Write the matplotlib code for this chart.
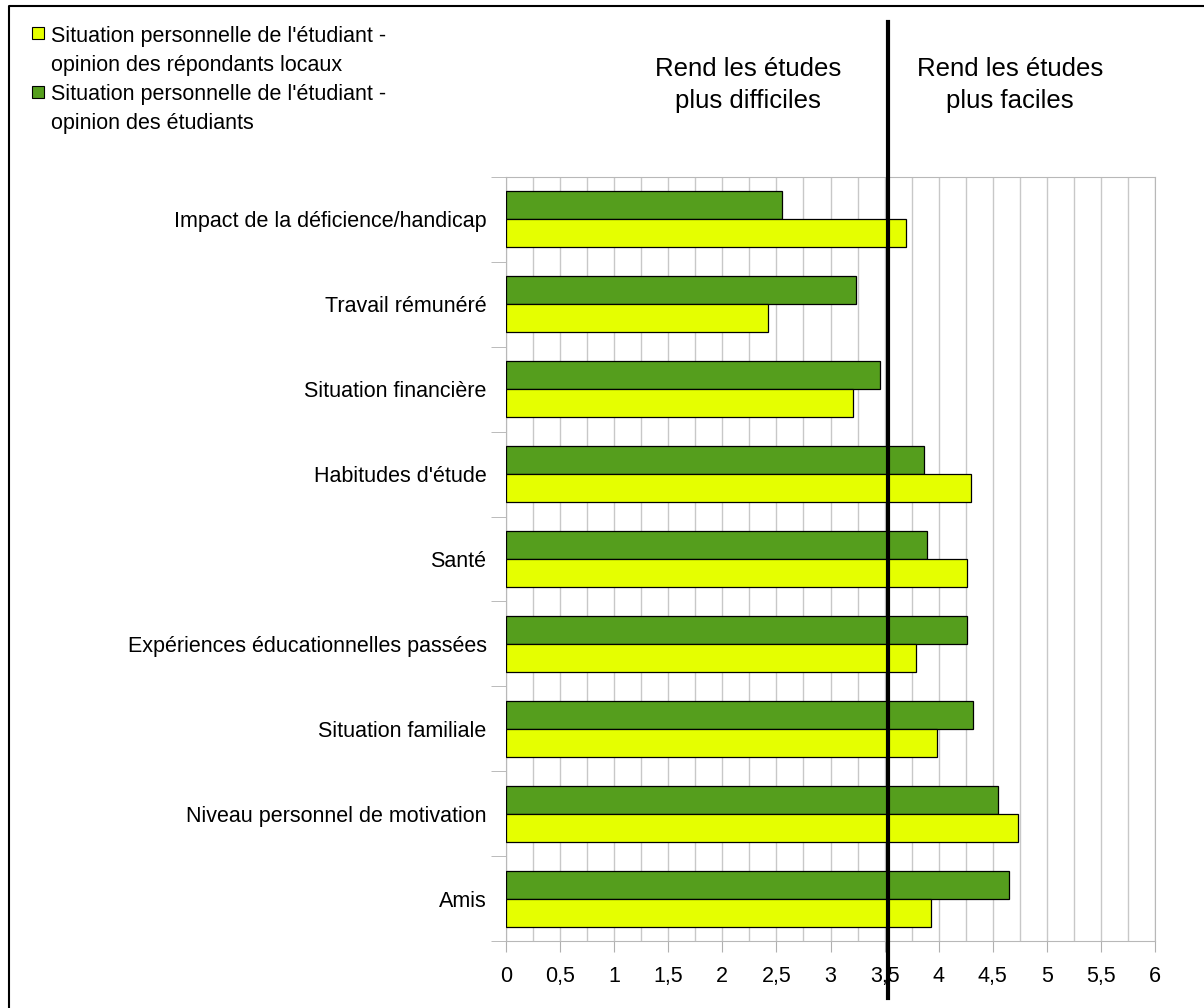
import matplotlib.pyplot as plt
import numpy as np
from matplotlib.patches import Rectangle
from matplotlib.lines import Line2D
from matplotlib.transforms import blended_transform_factory

plt.rcParams['font.family'] = ['Liberation Sans', 'DejaVu Sans']

categories = ['Impact de la déficience/handicap', 'Travail rémunéré', 'Situation financière',
              "Habitudes d'étude", 'Santé', 'Expériences éducationnelles passées',
              'Situation familiale', 'Niveau personnel de motivation', 'Amis']
etudiants = [2.55, 3.24, 3.46, 3.86, 3.89, 4.26, 4.32, 4.55, 4.65]
locaux = [3.70, 2.42, 3.21, 4.30, 4.26, 3.79, 3.98, 4.73, 3.93]
xticks = [0, 0.5, 1, 1.5, 2, 2.5, 3, 3.5, 4, 4.5, 5, 5.5, 6]
xlabels = ['0', '0,5', '1', '1,5', '2', '2,5', '3', '3,5', '4', '4,5', '5', '5,5', '6']
seuil = 3.53

vert = '#559e1d'
jaune = '#e5ff00'

fig = plt.figure(figsize=(12.04, 10.08), dpi=100)
ax = fig.add_axes([506/1204, 1 - 941/1008, 649/1204, 764/1008])

y = np.arange(len(categories))
h = 0.33
ax.barh(y - h/2, etudiants, height=h, color=vert, edgecolor='black', linewidth=0.9, zorder=3)
ax.barh(y + h/2, locaux, height=h, color=jaune, edgecolor='black', linewidth=0.9, zorder=3)

ax.set_xlim(0, 6)
ax.set_ylim(len(categories) - 0.5, -0.5)

ax.set_xticks(xticks)
ax.set_xticklabels(xlabels, fontsize=15.5)
ax.set_xticks(np.arange(0, 6.01, 0.25), minor=True)
ax.grid(axis='x', which='both', color='#c8c8c8', linewidth=1, zorder=0)
ax.tick_params(axis='x', which='major', length=8, color='#b0b0b0', pad=10)
ax.tick_params(axis='x', which='minor', length=0)

ax.set_yticks(y)
ax.set_yticklabels(categories, fontsize=15.5)
ax.set_yticks(np.arange(-0.5, len(categories), 1), minor=True)
ax.tick_params(axis='y', which='major', length=0, pad=14)
ax.tick_params(axis='y', which='minor', length=11, color='#b0b0b0')

for s in ax.spines.values():
    s.set_color('#b8b8b8')

# ligne de separation
tr = blended_transform_factory(ax.transData, fig.transFigure)
ax.plot([seuil, seuil], [1 - 22/1008, 1 - 998/1008], color='black', linewidth=3,
        transform=tr, clip_on=False, zorder=5)

fig.text(748/1204, 1 - 85/1008, 'Rend les études\nplus difficiles', ha='center', va='center',
         fontsize=18.5, linespacing=1.38)
fig.text(1010/1204, 1 - 85/1008, 'Rend les études\nplus faciles', ha='center', va='center',
         fontsize=18.5, linespacing=1.38)

# legende
leg = [(jaune, 27, "Situation personnelle de l'étudiant -\nopinion des répondants locaux", 51),
       (vert, 86, "Situation personnelle de l'étudiant -\nopinion des étudiants", 109)]
for col, sy, txt, ty in leg:
    fig.patches.append(Rectangle((32/1204, 1 - (sy + 12)/1008), 12/1204, 12/1008,
                                 facecolor=col, edgecolor='black', linewidth=0.8,
                                 transform=fig.transFigure))
    fig.text(51/1204, 1 - ty/1008, txt, ha='left', va='center', fontsize=15.5, linespacing=1.5)

# cadre (gauche et haut seulement)
fig.lines.append(Line2D([9/1204, 9/1204, 1], [0, 1 - 6/1008, 1 - 6/1008], color='black',
                        linewidth=1.5, transform=fig.transFigure))

fig.savefig('out.png', dpi=100)
